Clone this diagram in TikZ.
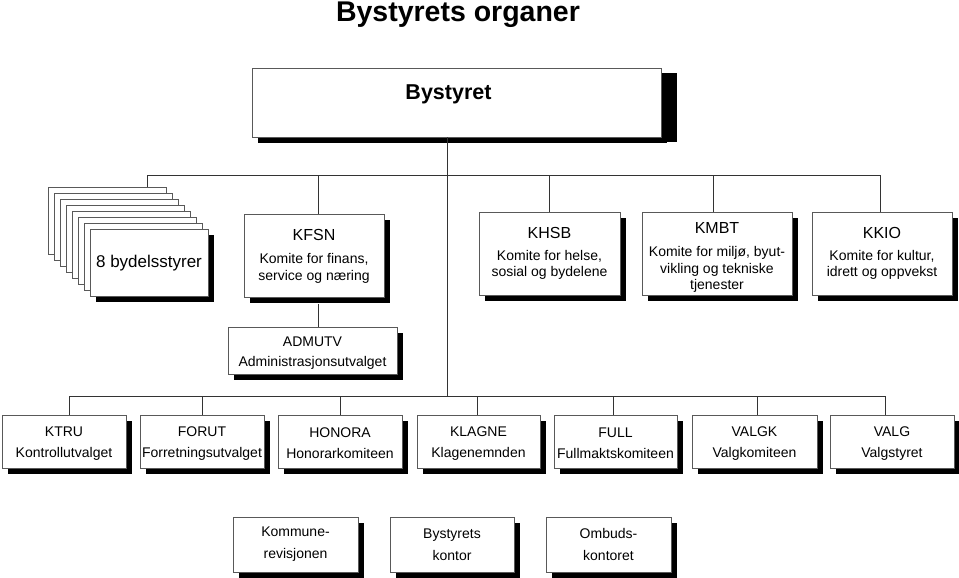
\documentclass[tikz,border=0pt]{standalone}
\usepackage{fontspec}
\setmainfont{Liberation Sans}
\usetikzlibrary{shadows}
\newcommand\hdfont{\fontsize{16}{19}\selectfont}
\newcommand\toppad{\rule{0pt}{14pt}}
\begin{document}
\begin{tikzpicture}[x=1pt,y=-1pt,
  box/.style={draw=black!65, line width=0.7pt, fill=white, inner sep=0pt, align=center,
    font=\fontsize{14}{16.5}\selectfont,
    drop shadow={shadow xshift=5.5pt, shadow yshift=-5.5pt, fill=black, opacity=1}},
  toprow/.style={box, minimum height=83pt},
  botrow/.style={box, minimum width=124pt, minimum height=53pt, font=\fontsize{14}{21}\selectfont},
  office/.style={box, minimum width=125pt, minimum height=55pt, font=\fontsize{14}{22}\selectfont},
  stackbox/.style={box, minimum width=118pt, minimum height=67pt, font=\fontsize{17}{20}\selectfont},
  conn/.style={draw=black!80, line width=0.8pt}]
\useasboundingbox (0,0) rectangle (959,578);

% title
\node[font=\fontsize{28.5}{32}\selectfont\bfseries] (title) at (458,15) {Bystyrets organer};

% Bystyret
\node[box, minimum width=409pt, minimum height=69pt,
  drop shadow={shadow xshift=16pt, shadow yshift=-5pt, fill=black, opacity=1}] (bystyret) at (456.5,102.5) {};
\node[font=\fontsize{21.5}{24}\selectfont\bfseries] (bystyrettext) at ([xshift=-8pt,yshift=8pt]bystyret.center) {Bystyret};

% connector coordinates
\coordinate (trunk) at ([xshift=-9.5pt]bystyret.south);
\coordinate (topbus) at (447,175);
\coordinate (botbus) at (447,396);

% stack of 8 bydelsstyrer
\foreach \i in {0,...,6} {
  \node[stackbox] (bydel\i) at ({48+6*\i+59},{187+6.1*\i+33.5}) {};
}
\node[stackbox] (bydel7) at ({48+42+59},{187+42.7+33.5}) {8 bydelsstyrer};

% top row committees
\node[toprow, minimum width=140pt] (kfsn) at (314,256)
  {{\hdfont KFSN}\\[7pt]Komite for finans,\\service og næring};
\node[toprow, minimum width=141pt] (khsb) at (549.5,253.5)
  {{\hdfont KHSB}\\[5pt]Komite for helse,\\sosial og bydelene};
\node[toprow, minimum width=150pt] (kmbt) at (717,253.5)
  {{\hdfont\rule{0pt}{19pt}KMBT}\\[7pt]Komite for miljø, byut-\\vikling og tekniske\\tjenester};
\node[toprow, minimum width=140pt] (kkio) at (882,253.5)
  {{\hdfont KKIO}\\[5pt]Komite for kultur,\\idrett og oppvekst};

% ADMUTV
\node[box, minimum width=169pt, minimum height=47pt, font=\fontsize{14}{20}\selectfont] (admutv) at (312.5,350.5)
  {\toppad ADMUTV\\Administrasjonsutvalget};

% bottom row
\node[botrow] (ktru) at (64,441.5) {\toppad KTRU\\Kontrollutvalget};
\node[botrow] (forut) at (202,441.5) {\toppad FORUT\\Forretningsutvalget};
\node[botrow] (honora) at (340,441.5) {\toppad HONORA\\Honorarkomiteen};
\node[botrow, minimum width=123pt] (klagne) at (478.5,441.5) {\toppad KLAGNE\\Klagenemnden};
\node[botrow, minimum width=123pt] (full) at (615.5,441.5) {\toppad FULL\\Fullmaktskomiteen};
\node[botrow, minimum width=125pt] (valgk) at (754.5,441.5) {\toppad VALGK\\Valgkomiteen};
\node[botrow] (valg) at (892,441.5) {\toppad VALG\\Valgstyret};

% offices
\node[office] (komrev) at (295.5,544.5) {Kommune-\\revisjonen};
\node[office, minimum width=124pt] (bykontor) at (452,544.5) {Bystyrets\\kontor};
\node[office] (ombud) at (608.5,544.5) {Ombuds-\\kontoret};

% connectors: trunk
\draw[conn] (trunk) -- (trunk |- botbus);
% top bus
\draw[conn] ([xshift=40pt]bydel0.north) |- ([xshift=-2pt]kkio.north |- topbus) -- ([xshift=-2pt]kkio.north);
\draw[conn] ([xshift=4pt]kfsn.north |- topbus) -- ([xshift=4pt]kfsn.north);
\draw[conn] (khsb.north |- topbus) -- (khsb.north);
\draw[conn] ([xshift=-4pt]kmbt.north |- topbus) -- ([xshift=-4pt]kmbt.north);
% KFSN to ADMUTV
\draw[conn] ([xshift=4pt]kfsn.south) ++(0,6) -- ([xshift=5.5pt]admutv.north);
% bottom bus
\draw[conn] ([xshift=5pt]ktru.north) |- ([xshift=-7pt]valg.north |- botbus) -- ([xshift=-7pt]valg.north);
\draw[conn] (forut.north |- botbus) -- (forut.north);
\draw[conn] (honora.north |- botbus) -- (honora.north);
\draw[conn] ([xshift=-1.5pt]klagne.north |- botbus) -- ([xshift=-1.5pt]klagne.north);
\draw[conn] ([xshift=-2.5pt]full.north |- botbus) -- ([xshift=-2.5pt]full.north);
\draw[conn] ([xshift=2.5pt]valgk.north |- botbus) -- ([xshift=2.5pt]valgk.north);
\end{tikzpicture}
\end{document}
